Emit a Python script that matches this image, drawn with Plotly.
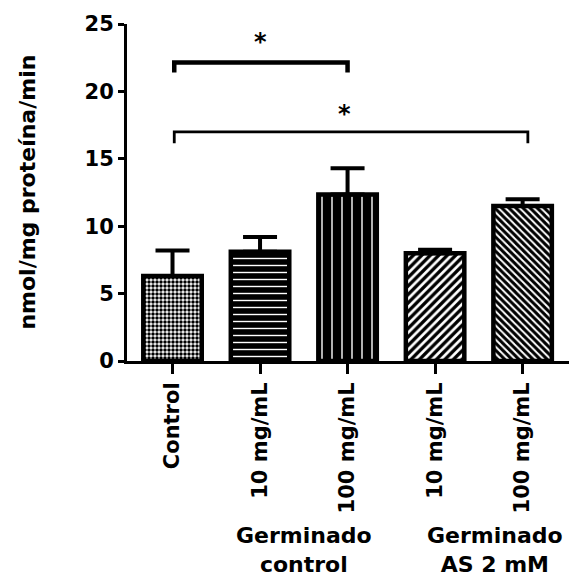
import plotly.graph_objects as go

# ---- data ----
categories = ["Control", "10 mg/mL", "100 mg/mL", "10 mg/mL", "100 mg/mL"]
means = [6.3, 8.1, 12.35, 8.0, 11.5]
sem = [1.9, 1.1, 1.95, 0.25, 0.5]
group_labels = ["Germinado<br>control", "Germinado<br>AS 2 mM"]
group_centers = [1.5, 3.68]
y_ticks = [0, 5, 10, 15, 20, 25]
y_title = "nmol/mg proteína/min"
# significance brackets: (x_start, x_end, y_bar, y_drop, star_x, star_y)
sig_brackets = [
    (0.02, 2.0, 22.15, 21.4, 1.0, 23.7),
    (0.02, 4.06, 17.0, 16.15, 1.97, 18.3),
]
bracket_widths = [4.5, 2.8]

# ---- styles ----
FONT = "DejaVu Sans"
pat_shapes = [".", "-", "|", "/", "\\"]
pat_fg = ["black", "white", "white", "black", "black"]
pat_bg = ["white", "black", "black", "white", "white"]
pat_size = [4, 7, 10, 6, 5]
pat_sol = [0.6, 0.2, 0.14, 0.55, 0.6]

xpos = list(range(len(categories)))

fig = go.Figure()
fig.add_trace(go.Bar(
    x=xpos,
    y=means,
    width=0.668,
    marker=dict(
        color="black",
        line=dict(color="black", width=4.5),
        pattern=dict(shape=pat_shapes, fgcolor=pat_fg, bgcolor=pat_bg,
                     size=pat_size, solidity=pat_sol, fillmode="replace"),
    ),
    error_y=dict(type="data", array=sem, arrayminus=[0] * len(sem),
                 symmetric=False, color="black", thickness=4, width=17),
    showlegend=False,
))

# significance brackets
for (x0, x1, yb, yd, sx, sy), lw in zip(sig_brackets, bracket_widths):
    fig.add_shape(type="path",
                  path=f"M {x0},{yd} L {x0},{yb} L {x1},{yb} L {x1},{yd}",
                  xref="x", yref="y",
                  line=dict(color="black", width=lw))
    fig.add_annotation(x=sx, y=sy, xref="x", yref="y", text="*",
                       showarrow=False,
                       font=dict(family=FONT, size=24, color="black", weight="bold"))

# group labels
for gx, gl in zip(group_centers, group_labels):
    fig.add_annotation(x=gx, y=-0.562, xref="x", yref="paper", text=gl,
                       showarrow=False, xanchor="center", yanchor="middle",
                       font=dict(family=FONT, size=22, color="black", weight="bold"))

# y title
fig.add_annotation(x=-0.226, y=0.5, xref="paper", yref="paper", text=y_title,
                   textangle=-90, showarrow=False, xanchor="center", yanchor="middle",
                   font=dict(family=FONT, size=22, color="black", weight="bold"))

fig.update_layout(
    width=569, height=578,
    margin=dict(l=127, r=0, t=24, b=217, autoexpand=False),
    paper_bgcolor="white", plot_bgcolor="white",
    xaxis=dict(
        range=[-0.52, 4.53],
        tickmode="array", tickvals=xpos, ticktext=categories,
        tickangle=-90,
        showline=True, linecolor="black", linewidth=3,
        ticks="outside", ticklen=10, tickwidth=3, tickcolor="black",
        showgrid=False, zeroline=False,
        tickfont=dict(family=FONT, size=21, color="black", weight="bold"),
    ),
    yaxis=dict(
        range=[0, 25],
        tickmode="array", tickvals=y_ticks,
        showline=True, linecolor="black", linewidth=3,
        ticks="outside", ticklen=6, tickwidth=3, tickcolor="black",
        showgrid=False, zeroline=False,
        tickfont=dict(family=FONT, size=21, color="black", weight="bold"),
    ),
)

fig.write_html("out.html")
